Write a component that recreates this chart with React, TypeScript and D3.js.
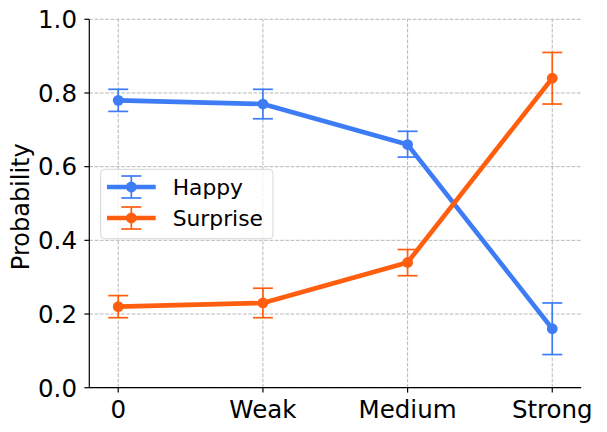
import React from "react";
import * as d3 from "d3";

const categories = ["0", "Weak", "Medium", "Strong"];
const yTicks = [0, 0.2, 0.4, 0.6, 0.8, 1.0];

const happyMean = [0.78, 0.77, 0.66, 0.16];
const happyLow = [0.75, 0.73, 0.626, 0.09];
const happyHigh = [0.81, 0.81, 0.696, 0.23];

const surpriseMean = [0.22, 0.23, 0.34, 0.84];
const surpriseLow = [0.19, 0.19, 0.304, 0.77];
const surpriseHigh = [0.25, 0.27, 0.375, 0.91];

const series = [
  { name: "Happy", color: "#3e7cf6", mean: happyMean, low: happyLow, high: happyHigh },
  { name: "Surprise", color: "#ff5e0e", mean: surpriseMean, low: surpriseLow, high: surpriseHigh },
];

const W = 607;
const H = 432;
const margin = { left: 89.3, right: 607 - 581.2, top: 19.3, bottom: 432 - 387.7 };
const font = "DejaVu Sans, sans-serif";

export default function App() {
  const x = d3
    .scaleLinear()
    .domain([-0.2, 3.2])
    .range([margin.left, W - margin.right]);
  const y = d3
    .scaleLinear()
    .domain([0, 1])
    .range([H - margin.bottom, margin.top]);

  const line = d3
    .line<number>()
    .x((_, i) => x(i))
    .y((d) => y(d));

  const capHalf = 10;

  return (
    <svg
      width={W}
      height={H}
      style={{ position: "absolute", left: 0, top: 0, background: "#fff" }}
      fontFamily={font}
    >
      {/* grid */}
      {yTicks.map((t) => (
        <line
          key={"gy" + t}
          x1={x.range()[0]}
          x2={x.range()[1]}
          y1={y(t)}
          y2={y(t)}
          stroke="#b0b0b0"
          strokeWidth={0.9}
          strokeDasharray="3.7,1.6"
        />
      ))}
      {categories.map((c, i) => (
        <line
          key={"gx" + c}
          x1={x(i)}
          x2={x(i)}
          y1={y.range()[0]}
          y2={y.range()[1]}
          stroke="#b0b0b0"
          strokeWidth={0.9}
          strokeDasharray="3.7,1.6"
        />
      ))}

      {/* series */}
      {series.map((s) => (
        <g key={s.name}>
          {s.mean.map((m, i) => (
            <g key={i} stroke={s.color} strokeWidth={1.7}>
              <line x1={x(i)} x2={x(i)} y1={y(s.low[i])} y2={y(s.high[i])} />
              <line x1={x(i) - capHalf} x2={x(i) + capHalf} y1={y(s.low[i])} y2={y(s.low[i])} />
              <line x1={x(i) - capHalf} x2={x(i) + capHalf} y1={y(s.high[i])} y2={y(s.high[i])} />
            </g>
          ))}
          <path
            d={line(s.mean) as string}
            fill="none"
            stroke={s.color}
            strokeWidth={4.6}
            strokeLinejoin="round"
          />
          {s.mean.map((m, i) => (
            <circle key={"c" + i} cx={x(i)} cy={y(m)} r={5.4} fill={s.color} />
          ))}
        </g>
      ))}

      {/* axes */}
      <line x1={margin.left} x2={margin.left} y1={y(0)} y2={y(1)} stroke="#000" strokeWidth={1.2} />
      <line x1={margin.left} x2={x.range()[1]} y1={y(0)} y2={y(0)} stroke="#000" strokeWidth={1.2} />
      {yTicks.map((t) => (
        <g key={"ty" + t}>
          <line x1={margin.left - 4.9} x2={margin.left} y1={y(t)} y2={y(t)} stroke="#000" strokeWidth={1.2} />
          <text x={77} y={y(t)} dy="0.36em" textAnchor="end" fontSize={24.5} fill="#000">
            {t.toFixed(1)}
          </text>
        </g>
      ))}
      {categories.map((c, i) => (
        <g key={"tx" + c}>
          <line x1={x(i)} x2={x(i)} y1={y(0)} y2={y(0) + 4.9} stroke="#000" strokeWidth={1.2} />
          <text x={x(i)} y={417.5} textAnchor="middle" fontSize={24.5} fill="#000">
            {c}
          </text>
        </g>
      ))}
      <text
        transform={`translate(28.5,206.7) rotate(-90)`}
        textAnchor="middle"
        fontSize={24}
        fill="#000"
      >
        Probability
      </text>

      {/* legend */}
      <rect
        x={100.7}
        y={169.3}
        width={172.3}
        height={69.4}
        rx={4}
        fill="#fff"
        fillOpacity={0.8}
        stroke="#d6d6d6"
        strokeWidth={1}
      />
      {series.map((s, i) => {
        const cy = 187 + i * 31;
        return (
          <g key={"lg" + s.name}>
            <line x1={107} x2={155.7} y1={cy} y2={cy} stroke={s.color} strokeWidth={4.6} />
            <g stroke={s.color} strokeWidth={1.7}>
              <line x1={131.3} x2={131.3} y1={cy - 11} y2={cy + 11} />
              <line x1={121.3} x2={141.3} y1={cy - 11} y2={cy - 11} />
              <line x1={121.3} x2={141.3} y1={cy + 11} y2={cy + 11} />
            </g>
            <circle cx={131.3} cy={cy} r={5.4} fill={s.color} />
            <text x={172.7} y={cy} dy="0.36em" fontSize={21.8} fill="#000">
              {s.name}
            </text>
          </g>
        );
      })}
    </svg>
  );
}
